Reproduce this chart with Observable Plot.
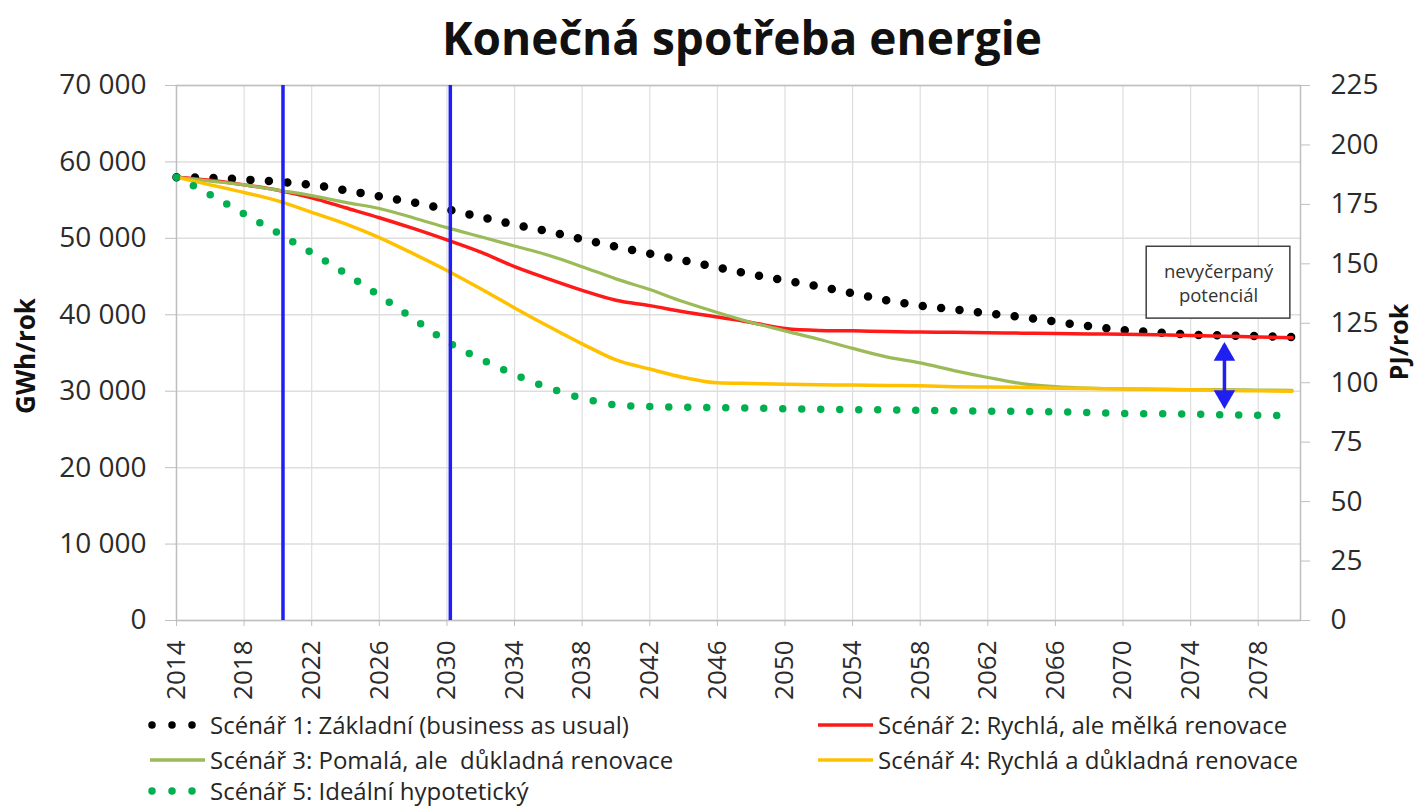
<!DOCTYPE html>
<html>
<head>
<meta charset="utf-8">
<script src="https://cdn.jsdelivr.net/npm/d3@7"></script>
<script src="https://cdn.jsdelivr.net/npm/@observablehq/plot@0.6"></script>
<style>
  html, body { margin: 0; padding: 0; background: #fff; }
  #wrap { position: relative; width: 1418px; height: 807px; font-family: "Open Sans", sans-serif; color: #262626; overflow: hidden; }
  #title { position: absolute; top: 6px; left: 0; width: 1484px; text-align: center; font-weight: 700; font-size: 46px; color: #111; line-height: 62px; }
  #chart { position: absolute; top: 50px; left: 0; }
  .leg { position: absolute; display: flex; align-items: center; font-size: 24px; white-space: pre; height: 32px; line-height: 32px; }
  .leg svg { margin-right: 4px; }
</style>
</head>
<body>
<div id="wrap">
  <div id="title">Konečná spotřeba energie</div>
  <div id="chart"></div>
  <div id="legend"></div>
</div>
<script>
// ---- data ----
const years = [2014,2016,2018,2020,2022,2024,2026,2028,2030,2032,2034,2036,2038,2040,2042,2044,2046,2048,2050,2052,2054,2056,2058,2060,2062,2064,2066,2068,2070,2072,2074,2076,2078,2080];
const s1 = [58000,57900,57700,57400,57000,56300,55500,54700,53800,52800,51800,50900,49900,48900,48000,47100,46200,45300,44500,43700,42800,41900,41200,40700,40200,39700,39100,38500,38000,37700,37400,37300,37200,37100];
const s2 = [58000,57600,57000,56300,55300,54000,52700,51300,49800,48200,46300,44700,43200,41900,41200,40400,39700,39000,38200,37950,37900,37800,37750,37700,37650,37600,37550,37500,37450,37400,37300,37200,37100,37000];
const s3 = [58000,57500,57000,56300,55600,54700,53900,52700,51400,50200,49000,47800,46300,44700,43300,41700,40300,39000,37900,36800,35600,34500,33700,32700,31800,31000,30600,30400,30300,30250,30200,30200,30150,30100];
const s4 = [58000,57000,56000,54900,53400,51900,50100,48000,45800,43400,40900,38500,36200,34100,32900,31800,31100,31000,30900,30850,30800,30750,30700,30600,30550,30500,30400,30350,30300,30250,30200,30100,30050,30000];
const s5 = [58000,55700,53200,50700,48100,45400,42500,39500,36500,34200,32200,30450,29100,28200,28000,27900,27850,27800,27700,27650,27600,27550,27500,27450,27400,27350,27300,27200,27100,27050,27000,26900,26850,26800];
const seriesNames = [
  "Scénář 1: Základní (business as usual)",
  "Scénář 2: Rychlá, ale mělká renovace",
  "Scénář 3: Pomalá, ale  důkladná renovace",
  "Scénář 4: Rychlá a důkladná renovace",
  "Scénář 5: Ideální hypotetický"
];
const xTicks = [2014,2018,2022,2026,2030,2034,2038,2042,2046,2050,2054,2058,2062,2066,2070,2074,2078];
const yTicks = [0,10000,20000,30000,40000,50000,60000,70000];
const pjTicks = [0,25,50,75,100,125,150,175,200,225];
const milestoneYears = [2020.3, 2030.2];
const gapArrow = {year: 2076, top: 36000, bottom: 28100, headTop: 34800, headBottom: 29300};
const note = {x1: 2071.4, x2: 2079.9, y1: 39500, y2: 48900, lines: ["nevyčerpaný", "potenciál"], ys: [45600, 42500]};

// ---- helpers ----
const yMax = 70000, pjMax = 225;
const pjToG = v => v * yMax / pjMax;
const fmtG = d => d3.format(",")(d).replace(/,/g, " ");
const mk = arr => years.map((y, i) => ({year: y, v: arr[i]}));

const colors = {s1: "#000000", s2: "#ff1a1a", s3: "#9bbb59", s4: "#ffc000", s5: "#00b050", blue: "#1f1ff2", grid: "#dedede", axis: "#bfbfbf", text: "#2b2b2b"};

const plot = Plot.plot({
  width: 1418,
  height: 660,
  marginTop: 35,
  marginBottom: 90,
  marginLeft: 176,
  marginRight: 118,
  style: {fontFamily: "Open Sans, sans-serif", color: colors.text, background: "transparent"},
  x: {domain: [2014, 2080.5]},
  y: {domain: [0, yMax]},
  marks: [
    Plot.ruleY(yTicks, {stroke: colors.grid, strokeWidth: 1.5}),
    Plot.ruleX(xTicks, {stroke: colors.grid, strokeWidth: 1.2}),
    Plot.frame({stroke: colors.axis, strokeWidth: 1.5}),
    Plot.axisY({ticks: yTicks, tickFormat: fmtG, tickSize: 11, tickPadding: 19, fontSize: 28, label: null, stroke: colors.axis, fill: colors.text}),
    Plot.axisY({anchor: "right", ticks: pjTicks.map(pjToG), tickFormat: d => String(Math.round(d * pjMax / yMax)), tickSize: 9, tickPadding: 21, fontSize: 28, label: null, stroke: colors.axis, fill: colors.text}),
    Plot.axisX({ticks: xTicks, tickFormat: d => String(d), tickRotate: -90, tickSize: 6, tickPadding: 14, fontSize: 26, label: null, stroke: colors.axis, fill: colors.text}),
    Plot.text(["GWh/rok"], {frameAnchor: "left", text: d => d, dx: -150, dy: 3, rotate: -90, textAnchor: "middle", fontSize: 26, fontWeight: 700, fill: "#111"}),
    Plot.text(["PJ/rok"], {frameAnchor: "right", text: d => d, dx: 99, dy: -11, rotate: -90, textAnchor: "middle", fontSize: 25, fontWeight: 700, fill: "#111"}),
    // series
    Plot.line(mk(s1), {x: "year", y: "v", stroke: colors.s1, strokeWidth: 8.5, strokeLinecap: "round", strokeDasharray: "0 18.5", curve: "monotone-x"}),
    Plot.line(mk(s2), {x: "year", y: "v", stroke: colors.s2, strokeWidth: 3.5, curve: "monotone-x"}),
    Plot.line(mk(s3), {x: "year", y: "v", stroke: colors.s3, strokeWidth: 3.2, curve: "monotone-x"}),
    Plot.line(mk(s4), {x: "year", y: "v", stroke: colors.s4, strokeWidth: 3.5, curve: "monotone-x"}),
    Plot.line(mk(s5), {x: "year", y: "v", stroke: colors.s5, strokeWidth: 7.5, strokeLinecap: "round", strokeDasharray: "0 19", curve: "monotone-x"}),
    // milestone lines
    Plot.ruleX(milestoneYears, {stroke: colors.blue, strokeWidth: 3.5}),
    // annotation
    Plot.rect([note], {x1: "x1", x2: "x2", y1: "y1", y2: "y2", fill: "white", stroke: "#404040", strokeWidth: 1.5}),
    Plot.text(note.lines, {x: (note.x1 + note.x2) / 2, y: (d, i) => note.ys[i], text: d => d, fontSize: 18.5, fill: "#333"}),
    Plot.ruleX([gapArrow], {x: "year", y1: "bottom", y2: "top", stroke: colors.blue, strokeWidth: 3.5}),
    Plot.dot([gapArrow], {x: "year", y: "headTop", symbol: "triangle", r: 8, fill: colors.blue, stroke: "none"}),
    Plot.dot([gapArrow], {x: "year", y: "headBottom", symbol: "triangle", r: 8, fill: colors.blue, stroke: "none", rotate: 180})
  ]
});
document.getElementById("chart").appendChild(plot);

// ---- legend ----
const legendItems = [
  {name: seriesNames[0], color: colors.s1, dotted: true, left: 148, top: 709},
  {name: seriesNames[1], color: colors.s2, dotted: false, left: 816, top: 709},
  {name: seriesNames[2], color: colors.s3, dotted: false, left: 148, top: 744},
  {name: seriesNames[3], color: colors.s4, dotted: false, left: 816, top: 744},
  {name: seriesNames[4], color: colors.s5, dotted: true, left: 148, top: 775}
];
const legend = document.getElementById("legend");
legendItems.forEach(it => {
  const div = document.createElement("div");
  div.className = "leg";
  div.style.left = it.left + "px";
  div.style.top = it.top + "px";
  const sw = it.dotted
    ? `<svg width="58" height="14"><line x1="4" y1="7" x2="47" y2="7" stroke="${it.color}" stroke-width="7.5" stroke-linecap="round" stroke-dasharray="0 20"/></svg>`
    : `<svg width="58" height="14"><line x1="2" y1="7" x2="57" y2="7" stroke="${it.color}" stroke-width="3.5"/></svg>`;
  div.innerHTML = sw + `<span>${it.name}</span>`;
  legend.appendChild(div);
});
</script>
</body>
</html>
